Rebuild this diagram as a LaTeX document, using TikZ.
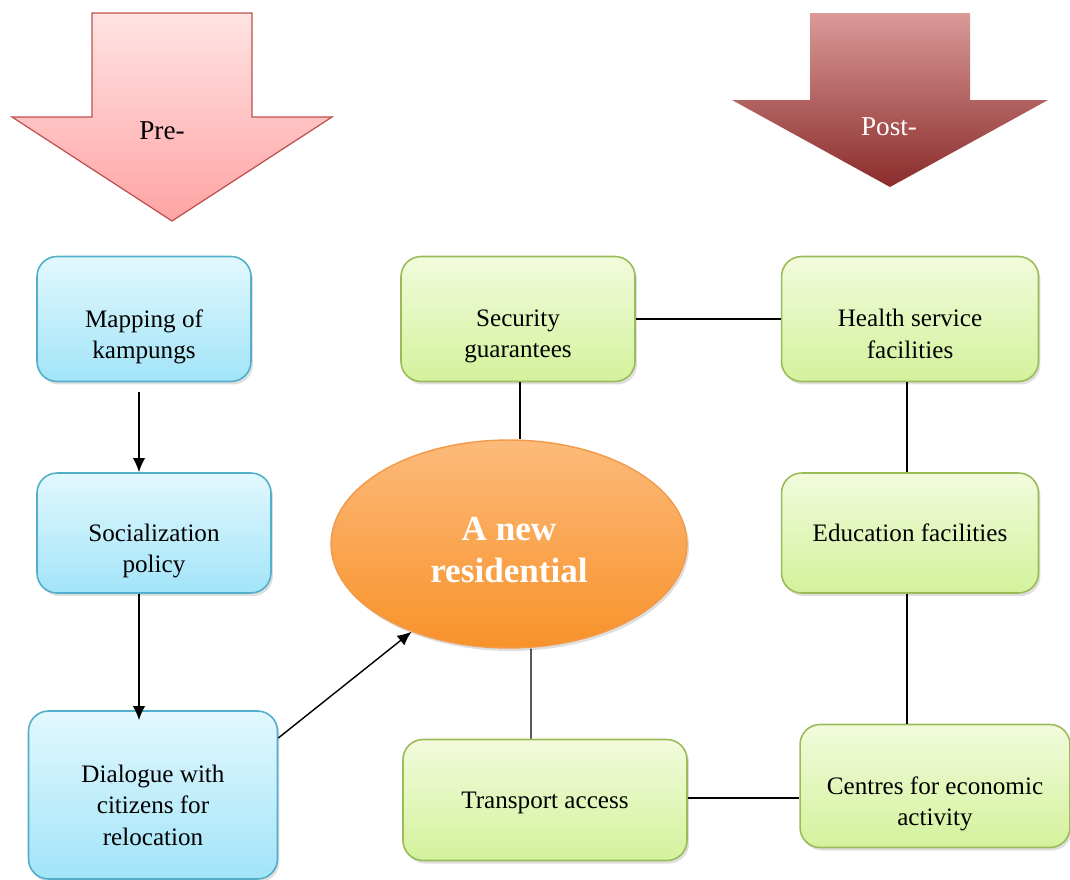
\documentclass[tikz,border=0pt]{standalone}
\usepackage{fontspec}
\setmainfont{Liberation Serif}
\usetikzlibrary{arrows.meta}
\usetikzlibrary{shapes.geometric}
\usetikzlibrary{shadows}

\definecolor{bluetop}{HTML}{E2F8FE}
\definecolor{bluebot}{HTML}{A2E4F8}
\definecolor{blueline}{HTML}{52AFC9}
\definecolor{greentop}{HTML}{F2FBDC}
\definecolor{greenbot}{HTML}{D3F29C}
\definecolor{greenline}{HTML}{9BBB59}
\definecolor{orangetop}{HTML}{FCBA7A}
\definecolor{orangebot}{HTML}{F8922A}
\definecolor{orangeline}{HTML}{F29A4A}
\definecolor{pinktop}{HTML}{FFE3E3}
\definecolor{pinkbot}{HTML}{FFA3A3}
\definecolor{redline}{HTML}{C0504D}
\definecolor{darktop}{HTML}{DA9A98}
\definecolor{darkbot}{HTML}{8A2C2B}

\begin{document}
\begin{tikzpicture}[x=0.02cm, y=-0.02cm,
  box/.style={rectangle, rounded corners=0.4cm, line width=0.9pt, align=center,
    font=\fontsize{14.3}{18}\selectfont, inner sep=2pt,
    drop shadow={shadow xshift=0.04cm, shadow yshift=-0.06cm, opacity=0.25}},
  bluebox/.style={box, draw=blueline, top color=bluetop, bottom color=bluebot},
  greenbox/.style={box, draw=greenline, top color=greentop, bottom color=greenbot},
  textdown/.style={execute at begin node={\rule{0pt}{#1}}},
  link/.style={line width=0.8pt},
  line/.style={>={Latex[length=8pt,width=7pt]}, line width=0.8pt}]
\useasboundingbox (0,0) rectangle (1070,879);

% phase arrows
\draw[draw=redline, line width=0.7pt, top color=pinktop, bottom color=pinkbot]
  (92,13) -- (252,13) -- (252,117) -- (332,117) -- (172,221) -- (12,117) -- (92,117) -- cycle;
\node (pre) at (162,131) {\fontsize{15.5}{18}\selectfont Pre-};
\shade[top color=darktop, bottom color=darkbot]
  (810,13) -- (970,13) -- (970,100) -- (1048,100) -- (890,187) -- (732,100) -- (810,100) -- cycle;
\node[text=white] (post) at (889,127) {\fontsize{15.5}{18}\selectfont Post-};

% left column
\node[bluebox, textdown=48.2pt, minimum width=4.28cm, minimum height=2.5cm] (map) at (144,319) {Mapping of\\kampungs};
\node[bluebox, textdown=48.4pt, minimum width=4.68cm, minimum height=2.4cm] (soc) at (154,533) {Socialization\\policy};
\node[bluebox, textdown=57.4pt, minimum width=4.98cm, minimum height=3.36cm] (dia) at (153,795) {Dialogue with\\citizens for\\relocation};

% centre
\node[ellipse, draw=orangeline, line width=0.8pt, top color=orangetop, bottom color=orangebot,
  minimum width=7.12cm, minimum height=4.16cm, align=center, text=white,
  font=\bfseries\fontsize{20}{24}\selectfont, textdown=43.7pt,
  drop shadow={shadow xshift=0.04cm, shadow yshift=-0.06cm, opacity=0.25}] (res) at (509,544) {A new\\residential};
\node[greenbox, textdown=47.2pt, minimum width=4.68cm, minimum height=2.5cm] (sec) at (518,319) {Security\\guarantees};
\node[greenbox, textdown=13.2pt, minimum width=5.68cm, minimum height=2.42cm] (tra) at (545,800) {Transport access};

% right column
\node[greenbox, textdown=45pt, minimum width=5.14cm, minimum height=2.5cm] (hea) at (910,319) {Health service\\facilities};
\node[greenbox, minimum width=5.14cm, minimum height=2.4cm] (edu) at (910,533) {Education facilities};
\node[greenbox, textdown=48.4pt, minimum width=5.4cm, minimum height=2.46cm] (cen) at (935,786) {Centres for economic\\activity};

% connectors
\draw[->, line] ([xshift=-0.1cm, yshift=-0.2cm]map.south) -- ([xshift=-0.1cm]map.south |- soc.north);
\draw[->, line] ([xshift=-0.3cm]soc.south) -- ([xshift=-0.3cm, yshift=-0.2cm]soc.south |- dia.north);
\draw[->, line] ([yshift=1.14cm]dia.east) -- (res.222);
\draw[link] ([xshift=0.04cm]sec.south) -- ([xshift=0.04cm]sec.south |- res.north);
\draw[link] (sec.east) -- (hea.west);
\draw[link] ([xshift=-0.06cm]hea.south) -- ([xshift=-0.06cm]hea.south |- edu.north);
\draw[link] ([xshift=-0.06cm]edu.south) -- ([xshift=-0.06cm]edu.south |- cen.north);
\draw[link] ([xshift=0.44cm]res.south) -- ([xshift=-0.28cm]tra.north);
\draw[link] (tra.east |- 0,798) -- (cen.west |- 0,798);

\end{tikzpicture}
\end{document}
